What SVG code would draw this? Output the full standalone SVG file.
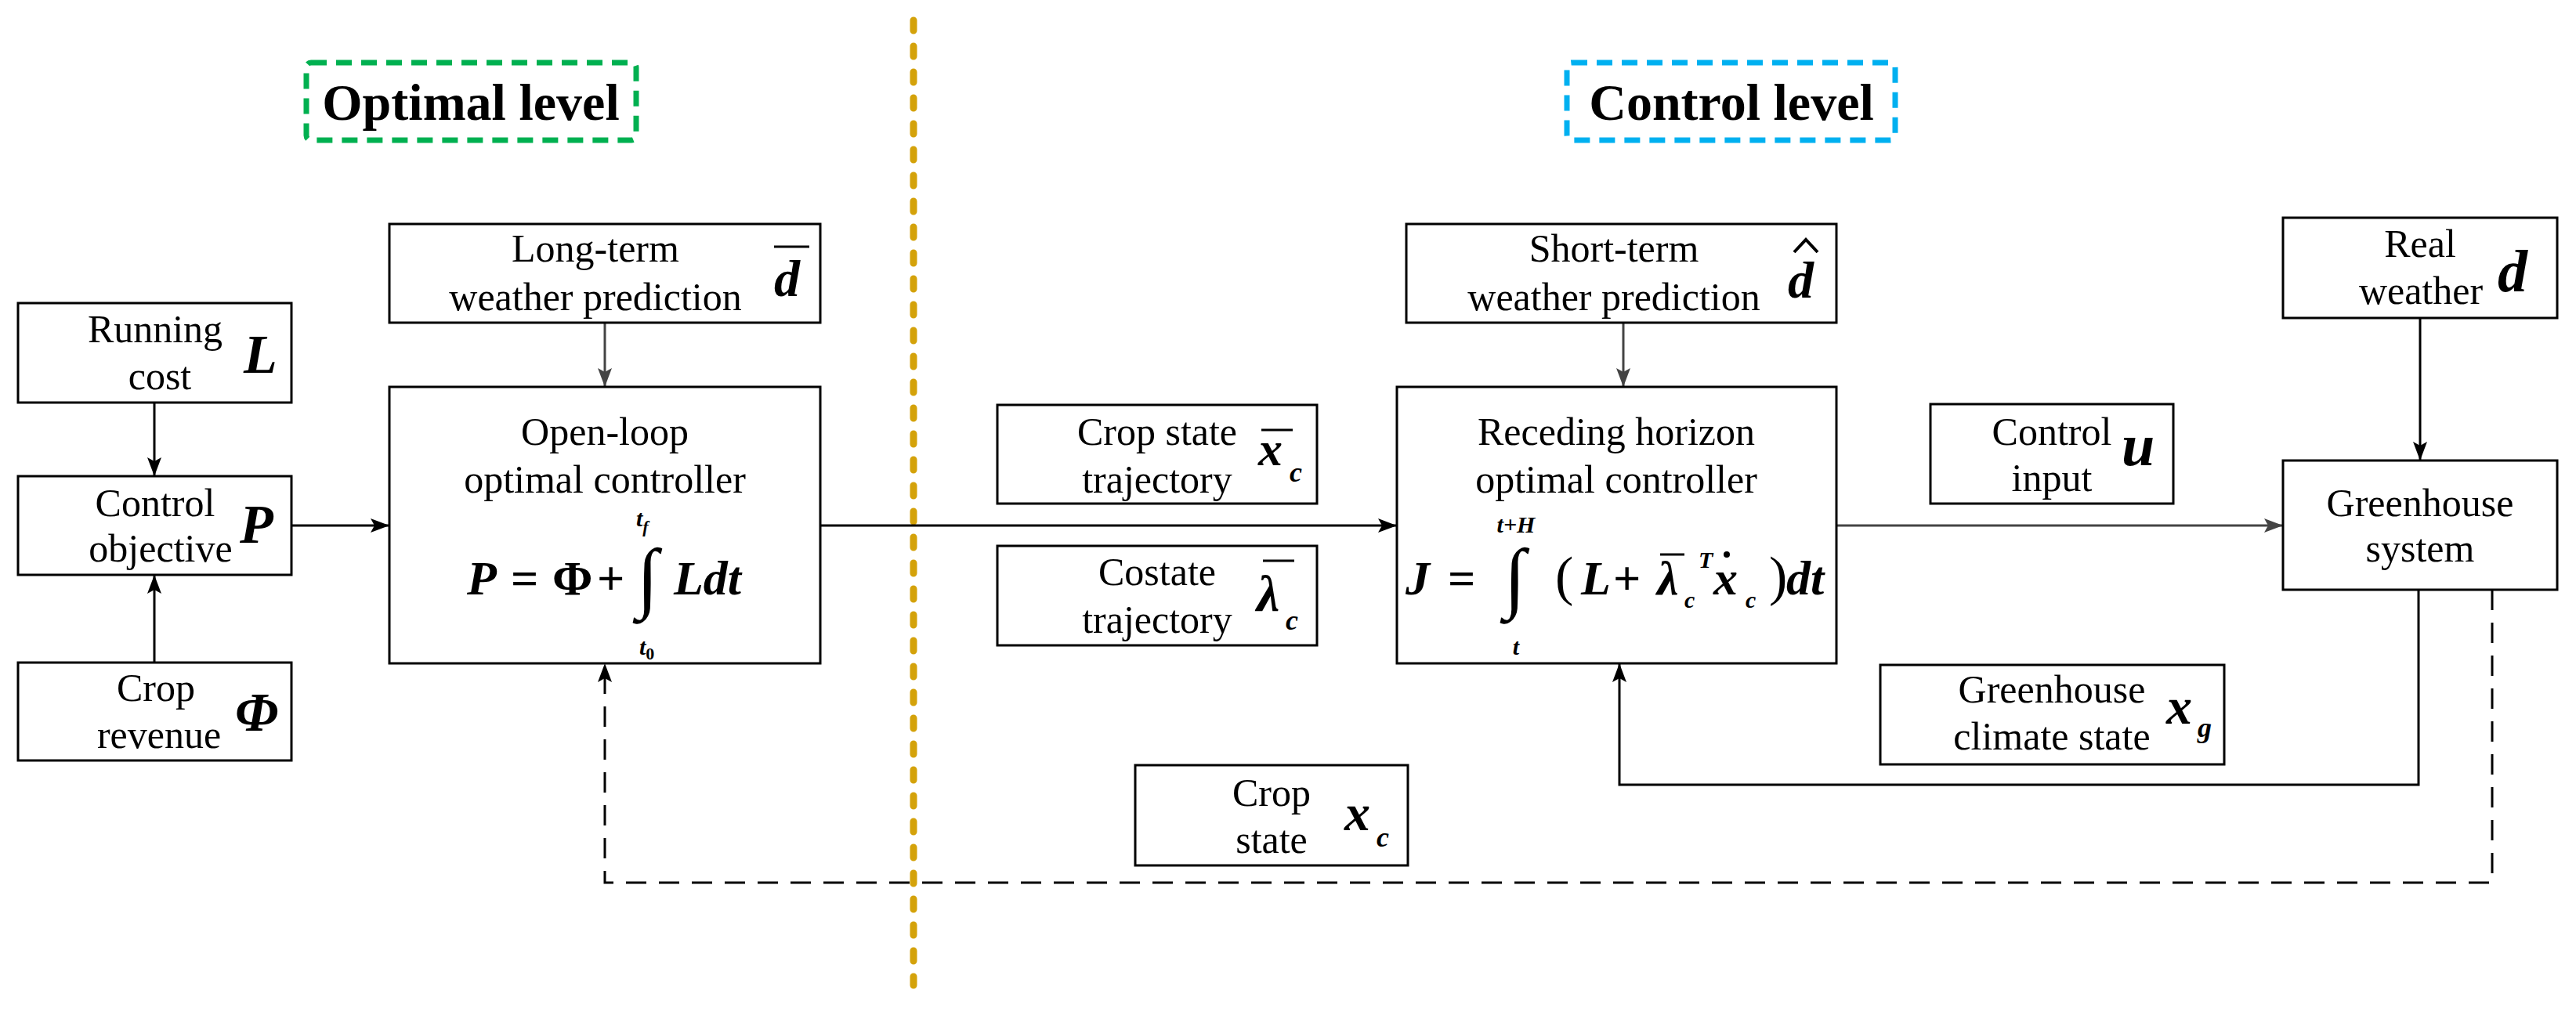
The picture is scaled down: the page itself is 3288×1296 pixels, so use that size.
<svg xmlns="http://www.w3.org/2000/svg" width="3288" height="1296" viewBox="0 0 3288 1296">
<style>
.b{fill:#fff;stroke:#000;stroke-width:3}
.t{font-family:"Liberation Serif","DejaVu Serif",serif;font-size:50px;text-anchor:middle;fill:#000}
.m{font-family:"Liberation Serif","DejaVu Serif",serif;font-style:italic;font-weight:bold;fill:#000}
.ttl{font-family:"Liberation Serif","DejaVu Serif",serif;font-weight:bold;font-size:66px;text-anchor:middle}
.c{fill:none;stroke:#000;stroke-width:3}
.g{fill:none;stroke:#444;stroke-width:3}
</style>
<defs>
<marker id="a" markerWidth="24" markerHeight="18" refX="24" refY="9" orient="auto" markerUnits="userSpaceOnUse"><path d="M0,0 L24,9 L0,18 L5,9 Z" fill="#000"/></marker>
<marker id="ag" markerWidth="24" markerHeight="18" refX="24" refY="9" orient="auto" markerUnits="userSpaceOnUse"><path d="M0,0 L24,9 L0,18 L5,9 Z" fill="#444"/></marker>
</defs>
<rect width="3288" height="1296" fill="#fff"/>
<line x1="1166" y1="26" x2="1166" y2="1258" stroke="#D4A20A" stroke-width="9" stroke-dasharray="13 20" stroke-linecap="round"/>
<g id="optimal-level"><rect x="391" y="80" width="421" height="99" rx="6" fill="none" stroke="#00B050" stroke-width="7" stroke-dasharray="20 12"/><text class="ttl" x="601" y="153">Optimal level</text></g>
<g id="control-level"><rect x="2000" y="80" width="419" height="99" rx="6" fill="none" stroke="#00B0F0" stroke-width="7" stroke-dasharray="20 12"/><text class="ttl" x="2210" y="153">Control level</text></g>
<g id="connectors">
<line class="c" x1="197" y1="514" x2="197" y2="608" marker-end="url(#a)"/>
<line class="c" x1="197" y1="846" x2="197" y2="734" marker-end="url(#a)"/>
<line class="c" x1="372" y1="671" x2="497" y2="671" marker-end="url(#a)"/>
<line class="g" x1="772" y1="412" x2="772" y2="494" marker-end="url(#ag)"/>
<line class="c" x1="1047" y1="671" x2="1783" y2="671" marker-end="url(#a)"/>
<line class="g" x1="2072" y1="412" x2="2072" y2="494" marker-end="url(#ag)"/>
<line class="g" x1="2344" y1="671" x2="2914" y2="671" marker-end="url(#ag)"/>
<line class="c" x1="3089" y1="406" x2="3089" y2="588" marker-end="url(#a)"/>
<polyline class="c" points="3087,753 3087,1002 2067,1002 2067,847" marker-end="url(#a)"/>
<polyline class="c" points="3181,753 3181,1127 772,1127 772,847" stroke-dasharray="26 16" marker-end="url(#a)"/>
</g>
<g id="running-cost"><rect class="b" x="23" y="387" width="349" height="127"/><text class="t" x="198" y="437">Running</text><text class="t" x="204" y="497">cost</text><text class="m" x="311" y="476" font-size="70">L</text></g>
<g id="control-objective"><rect class="b" x="23" y="608" width="349" height="126"/><text class="t" x="198" y="659">Control</text><text class="t" x="205" y="717">objective</text><text class="m" x="306" y="693" font-size="70">P</text></g>
<g id="crop-revenue"><rect class="b" x="23" y="846" width="349" height="125"/><text class="t" x="199" y="895">Crop</text><text class="t" x="203" y="955">revenue</text><text class="m" x="300" y="933" font-size="70" font-style="normal">Φ</text></g>
<g id="long-term"><rect class="b" x="497" y="286" width="550" height="126"/><text class="t" x="760" y="334">Long-term</text><text class="t" x="760" y="396">weather prediction</text><text class="m" x="988" y="378" font-size="66">d</text><line x1="988" y1="315" x2="1033" y2="315" stroke="#000" stroke-width="3"/></g>
<g id="open-loop"><rect class="b" x="497" y="494" width="550" height="353"/><text class="t" x="772" y="568">Open-loop</text><text class="t" x="772" y="629">optimal controller</text>
<text class="m" font-size="62" y="759"><tspan x="596">P</tspan><tspan x="652" font-style="normal">=</tspan><tspan x="705" font-style="normal">Φ</tspan><tspan x="762" font-style="normal">+</tspan><tspan x="860">Ldt</tspan></text>
<text class="m" x="812" y="770" font-size="100" font-weight="normal" font-style="normal">∫</text>
<text class="m" x="812" y="672" font-size="30">t<tspan font-size="22" dy="8">f</tspan></text><text class="m" x="816" y="836" font-size="30">t<tspan font-size="22" dy="6" font-style="normal">0</tspan></text></g>
<g id="crop-state-trajectory"><rect class="b" x="1273" y="517" width="408" height="126"/><text class="t" x="1477" y="568">Crop state</text><text class="t" x="1477" y="629">trajectory</text><text class="m" x="1606" y="594" font-size="62">x</text><text class="m" x="1646" y="615" font-size="36">c</text><line x1="1610" y1="549" x2="1650" y2="549" stroke="#000" stroke-width="3"/></g>
<g id="costate-trajectory"><rect class="b" x="1273" y="697" width="408" height="127"/><text class="t" x="1477" y="747">Costate</text><text class="t" x="1477" y="808">trajectory</text><text class="m" x="1604" y="780" font-size="66">λ</text><text class="m" x="1641" y="804" font-size="36">c</text><line x1="1612" y1="716" x2="1652" y2="716" stroke="#000" stroke-width="3"/></g>
<g id="crop-state"><rect class="b" x="1449" y="977" width="348" height="128"/><text class="t" x="1623" y="1029">Crop</text><text class="t" x="1623" y="1089">state</text><text class="m" x="1716" y="1060" font-size="66">x</text><text class="m" x="1757" y="1081" font-size="36">c</text></g>
<g id="short-term"><rect class="b" x="1795" y="286" width="549" height="126"/><text class="t" x="2060" y="334">Short-term</text><text class="t" x="2060" y="396">weather prediction</text><text class="m" x="2282" y="380" font-size="66">d</text><path d="M2290,322 L2305,306 L2320,322" fill="none" stroke="#000" stroke-width="4"/></g>
<g id="receding"><rect class="b" x="1783" y="494" width="561" height="353"/><text class="t" x="2063" y="568">Receding horizon</text><text class="t" x="2063" y="629">optimal controller</text>
<text class="m" font-size="62" y="759"><tspan x="1794">J</tspan><tspan x="1848" font-style="normal">=</tspan><tspan x="1985" font-style="normal" font-weight="normal" font-size="70">(</tspan><tspan x="2018">L</tspan><tspan x="2059" font-style="normal">+</tspan><tspan x="2115">λ</tspan><tspan x="2187">x</tspan><tspan x="2258" font-style="normal" font-weight="normal" font-size="70">)</tspan><tspan x="2280">dt</tspan></text>
<line x1="2119" y1="708" x2="2150" y2="708" stroke="#000" stroke-width="3"/>
<text class="m" x="2168" y="725" font-size="30">T</text><text class="m" x="2150" y="776" font-size="30">c</text>
<circle cx="2204" cy="708" r="4" fill="#000"/><text class="m" x="2228" y="776" font-size="30">c</text>
<text class="m" x="1919" y="770" font-size="100" font-weight="normal" font-style="normal">∫</text>
<text class="m" x="1935" y="680" font-size="30" text-anchor="middle">t+H</text><text class="m" x="1935" y="836" font-size="30" text-anchor="middle">t</text></g>
<g id="control-input"><rect class="b" x="2464" y="516" width="310" height="127"/><text class="t" x="2619" y="568">Control</text><text class="t" x="2619" y="627">input</text><text class="m" x="2708" y="594" font-size="76">u</text></g>
<g id="real-weather"><rect class="b" x="2914" y="278" width="350" height="128"/><text class="t" x="3089" y="328">Real</text><text class="t" x="3090" y="388">weather</text><text class="m" x="3188" y="372" font-size="76">d</text></g>
<g id="greenhouse-system"><rect class="b" x="2914" y="588" width="350" height="165"/><text class="t" x="3089" y="659">Greenhouse</text><text class="t" x="3089" y="717">system</text></g>
<g id="greenhouse-climate"><rect class="b" x="2400" y="849" width="439" height="127"/><text class="t" x="2619" y="897">Greenhouse</text><text class="t" x="2619" y="957">climate state</text><text class="m" x="2765" y="924" font-size="66">x</text><text class="m" x="2805" y="941" font-size="36">g</text></g>
</svg>
